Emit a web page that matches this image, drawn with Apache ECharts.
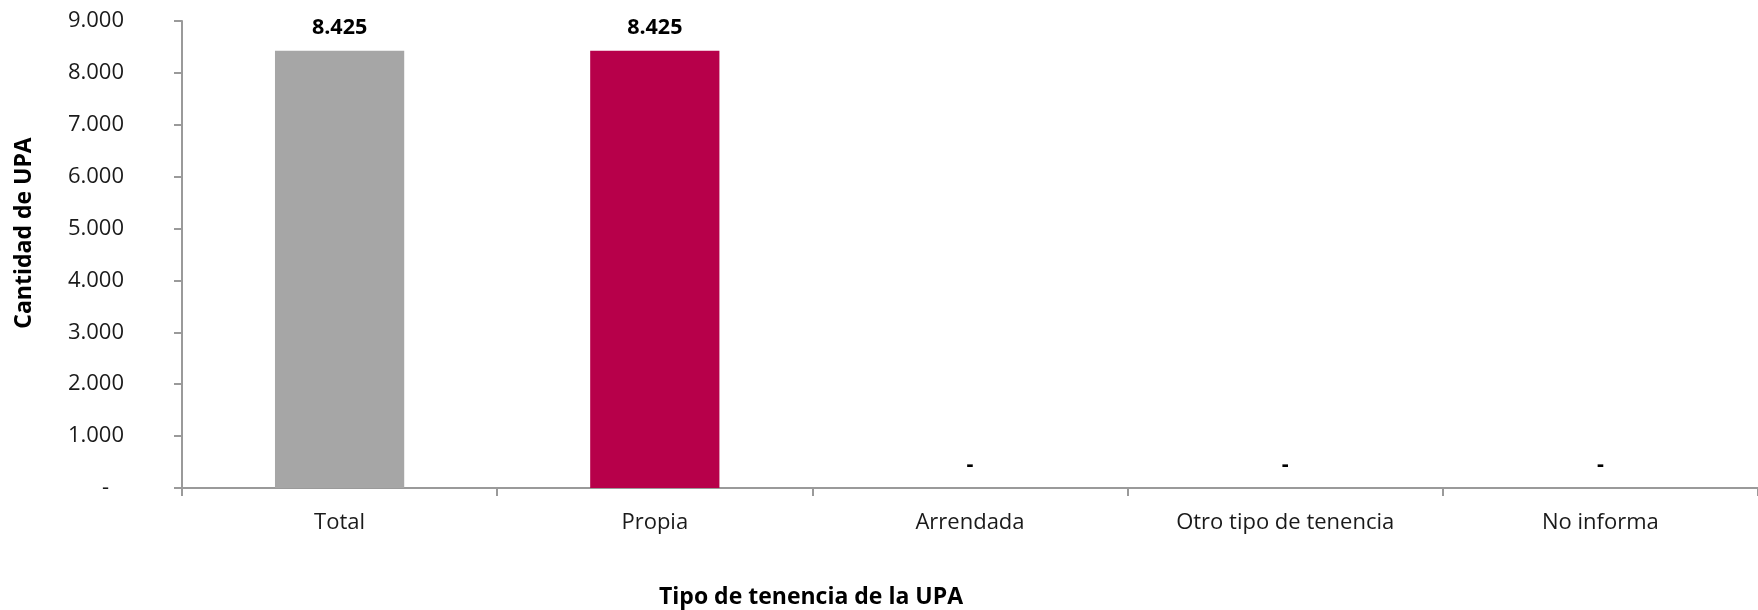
<!DOCTYPE html>
<html>
<head>
<meta charset="utf-8">
<script src="https://cdn.jsdelivr.net/npm/echarts@6/dist/echarts.min.js"></script>
<style>
  html, body { margin: 0; padding: 0; background: #fff; }
  #chart { width: 1758px; height: 610px; }
</style>
</head>
<body>
<div id="chart"></div>
<script>
// categorias y valores
const categorias = ["Total", "Propia", "Arrendada", "Otro tipo de tenencia", "No informa"];
const valores = [8425, 8425, 0, 0, 0];
const colores = ["#a6a6a6", "#b7004a", "#b7004a", "#b7004a", "#b7004a"];
const yTicks = { min: 0, max: 9000, interval: 1000 };

function fmtMiles(v) {
  return String(v).replace(/\B(?=(\d{3})+(?!\d))/g, ".");
}

const chart = echarts.init(document.getElementById("chart"));
const fuente = "'Open Sans', sans-serif";

const option = {
  animation: false,
  grid: { left: 182, right: -8, top: 21, bottom: 122 },
  xAxis: {
    type: "category",
    data: categorias,
    axisLine: { lineStyle: { color: "#9a9a9a", width: 2 } },
    axisTick: { show: true, length: 8, lineStyle: { color: "#9a9a9a", width: 2 } },
    axisLabel: { color: "#1a1a1a", fontSize: 22, fontFamily: fuente, margin: 24 }
  },
  yAxis: {
    type: "value",
    min: yTicks.min,
    max: yTicks.max,
    interval: yTicks.interval,
    splitLine: { show: false },
    axisLine: { show: true, lineStyle: { color: "#9a9a9a", width: 2 } },
    axisTick: { show: true, length: 8, lineStyle: { color: "#9a9a9a", width: 2 } },
    axisLabel: {
      color: "#1a1a1a", fontSize: 22, fontFamily: fuente, margin: 58,
      formatter: function (v) { return v === 0 ? "{d|-}" : fmtMiles(v); },
      rich: { d: { fontSize: 22, fontFamily: fuente, color: "#1a1a1a", padding: [0, 15, 0, 0] } }
    }
  },
  series: [{
    type: "bar",
    barWidth: "41%",
    data: valores.map((v, i) => ({ value: v, itemStyle: { color: colores[i] } })),
    label: {
      show: true,
      position: "top",
      distance: 12,
      color: "#000",
      fontSize: 21.5,
      fontWeight: "bold",
      fontFamily: fuente,
      formatter: function (p) { return p.value === 0 ? "-" : fmtMiles(p.value); }
    }
  }],
  graphic: [
    {
      type: "text", x: 811, y: 597,
      style: { text: "Tipo de tenencia de la UPA", font: "bold 23px " + fuente, fill: "#000",
               textAlign: "center", textVerticalAlign: "middle" }
    },
    {
      type: "text", x: 24, y: 233, rotation: Math.PI / 2,
      style: { text: "Cantidad de UPA", font: "bold 23px " + fuente, fill: "#000",
               textAlign: "center", textVerticalAlign: "middle" }
    }
  ]
};
chart.setOption(option);
window.addEventListener("resize", chart.resize);
</script>
</body>
</html>
